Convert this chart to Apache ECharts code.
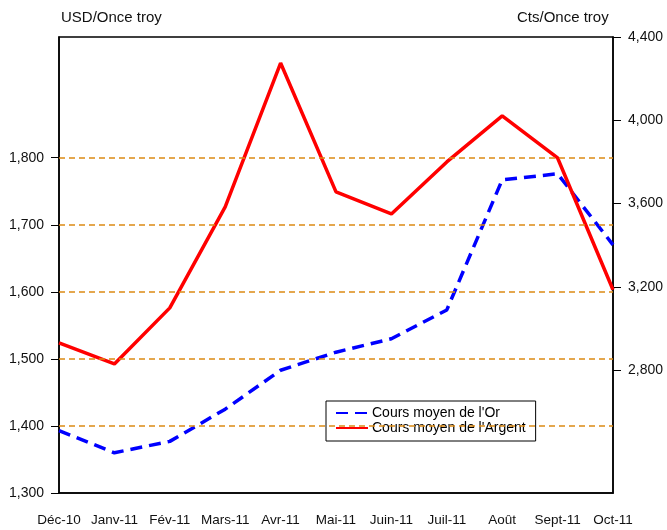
<!DOCTYPE html>
<html>
<head>
<meta charset="utf-8">
<script src="https://cdn.jsdelivr.net/npm/echarts@6/dist/echarts.min.js"></script>
<style>
  html, body { margin: 0; padding: 0; background: #fff; }
  #chart { width: 667px; height: 530px; }
</style>
</head>
<body>
<div id="chart"></div>
<script>
// months on the x axis
const months = ['Déc-10', 'Janv-11', 'Fév-11', 'Mars-11', 'Avr-11', 'Mai-11', 'Juin-11', 'Juil-11', 'Août', 'Sept-11', 'Oct-11'];
// gold, USD per troy ounce (left axis)
const goldValues = [1393, 1360, 1377, 1425, 1483, 1510, 1530, 1573, 1767, 1776, 1670];
// silver, cents per troy ounce (right axis)
const silverValues = [2931, 2830, 3099, 3584, 4275, 3656, 3550, 3800, 4021, 3819, 3186];
const leftTicks = [1300, 1400, 1500, 1600, 1700, 1800];
const rightTicks = [2800, 3200, 3600, 4000, 4400];
const gridValues = [1400, 1500, 1600, 1700, 1800];

const fmt = v => Number(v).toLocaleString('en-US');

function setChart() {
    const chart = echarts.init(document.getElementById('chart'));
    const font = 'Liberation Sans, Arial, sans-serif';

    chart.setOption({
        animation: false,
        textStyle: { fontFamily: font },
        grid: {
            left: 59, right: 54, top: 37, bottom: 37,
            show: true,
            borderColor: '#000',
            borderWidth: 1.5,
            backgroundColor: 'transparent'
        },
        graphic: [
            { type: 'text', left: 61, top: 10, style: { text: 'USD/Once troy', font: '15px ' + font, fill: '#111' } },
            { type: 'text', left: 517, top: 10, style: { text: 'Cts/Once troy', font: '15px ' + font, fill: '#111' } }
        ],
        legend: {
            left: 326, top: 401,
            orient: 'vertical',
            padding: [5, 10, 6, 9],
            itemGap: 1,
            itemWidth: 32,
            itemHeight: 14,
            borderColor: '#000',
            borderWidth: 1,
            backgroundColor: '#fff',
            itemStyle: { opacity: 0 },
            textStyle: { fontSize: 14, color: '#000', padding: [0, 0, 0, -1] },
            data: ['Cours moyen de l\'Or', 'Cours moyen de l\'Argent']
        },
        xAxis: {
            type: 'category',
            data: months,
            boundaryGap: false,
            axisLine: { lineStyle: { color: '#000', width: 1.5 } },
            axisTick: { show: false },
            axisLabel: { color: '#111', fontSize: 13.5, margin: 20, interval: 0 }
        },
        yAxis: [
            {
                type: 'value',
                min: 1300, max: 1980,
                axisLine: { show: true, lineStyle: { color: '#000', width: 1.5 } },
                axisTick: { show: true, customValues: leftTicks, length: 8, lineStyle: { color: '#000' } },
                axisLabel: { customValues: leftTicks, color: '#111', fontSize: 14, margin: 15, formatter: fmt },
                splitLine: { show: false }
            },
            {
                type: 'value',
                min: 2210, max: 4400,
                position: 'right',
                axisLine: { show: true, lineStyle: { color: '#000', width: 1.5 } },
                axisTick: { show: true, customValues: rightTicks, length: 8, lineStyle: { color: '#000' } },
                axisLabel: { customValues: rightTicks, color: '#111', fontSize: 14, margin: 15, formatter: fmt },
                splitLine: { show: false }
            }
        ],
        series: [
            {
                name: 'Cours moyen de l\'Or',
                type: 'line',
                yAxisIndex: 0,
                data: goldValues,
                symbol: 'none',
                z: 3,
                lineStyle: { color: '#0000ff', width: 3.5, type: [12, 7] },
                itemStyle: { color: '#0000ff' },
                markLine: {
                    silent: true,
                    symbol: 'none',
                    label: { show: false },
                    emphasis: { disabled: true },
                    lineStyle: { color: '#dc8a14', width: 1.5, type: [6, 4], opacity: 1 },
                    data: gridValues.map(v => ({ yAxis: v, lineStyle: { color: '#dc8a14' } }))
                }
            },
            {
                name: 'Cours moyen de l\'Argent',
                type: 'line',
                yAxisIndex: 1,
                data: silverValues,
                symbol: 'none',
                z: 4,
                lineStyle: { color: '#ff0000', width: 3.5 },
                itemStyle: { color: '#ff0000' }
            }
        ]
    });

    window.addEventListener('resize', () => {
        chart.resize();
    });
}

window.addEventListener('DOMContentLoaded', function () {
    setChart();
});
</script>
</body>
</html>
